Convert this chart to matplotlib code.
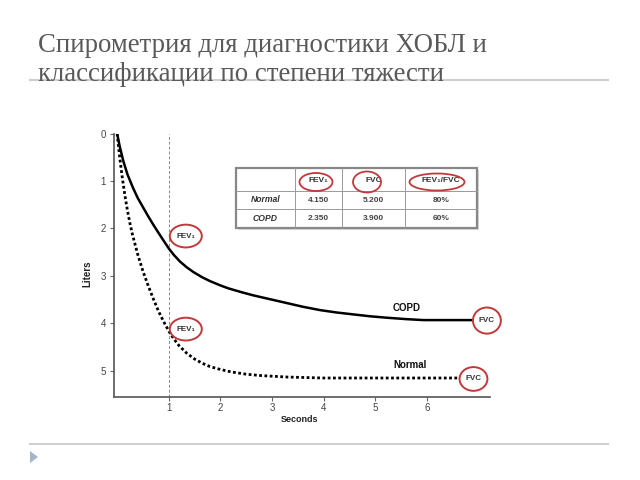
import matplotlib
matplotlib.use("Agg")
import matplotlib.pyplot as plt
from matplotlib.patches import Ellipse, Rectangle, Polygon

# ---------------- data ----------------
title_lines = ["Спирометрия для диагностики ХОБЛ и",
               "классификации по степени тяжести"]

copd_t = [0, 0.05, 0.12, 0.2, 0.31, 0.4, 0.51, 0.6, 0.7, 0.8, 0.89, 1.0, 1.1, 1.22, 1.35,
          1.48, 1.65, 1.8, 2.0, 2.15, 2.4, 2.64, 3.0, 3.28, 3.6, 3.93, 4.25, 4.57, 4.9,
          5.22, 5.6, 5.93, 6.9]
copd_v = [0, 0.27, 0.58, 0.86, 1.15, 1.36, 1.57, 1.74, 1.92, 2.09, 2.24, 2.42, 2.56,
          2.70, 2.82, 2.92, 3.03, 3.11, 3.20, 3.26, 3.34, 3.41, 3.50, 3.57, 3.65, 3.72,
          3.77, 3.81, 3.85, 3.88, 3.91, 3.93, 3.93]

normal_t = [0, 0.05, 0.1, 0.15, 0.2, 0.25, 0.3, 0.4, 0.5, 0.6, 0.7, 0.8, 0.9, 1.0, 1.1,
            1.2, 1.35, 1.5, 1.65, 1.8, 2.0, 2.2, 2.5, 2.8, 3.3, 4.0, 6.64]
normal_v = [0, 0.50, 0.93, 1.30, 1.62, 1.90, 2.14, 2.55, 2.90, 3.20, 3.48, 3.74, 3.96,
            4.16, 4.33, 4.47, 4.63, 4.75, 4.84, 4.91, 4.97, 5.02, 5.07, 5.10, 5.13,
            5.15, 5.15]

x_ticks = [1, 2, 3, 4, 5, 6]
y_ticks = [0, 1, 2, 3, 4, 5]

table_cols = ["FEV\u2081", "FVC", "FEV\u2081/FVC"]
table_rows = ["Normal", "COPD"]
table_fev1 = ["4.150", "2.350"]
table_fvc = ["5.200", "3.900"]
table_ratio = ["80%", "60%"]

SANS = ["Liberation Sans", "DejaVu Sans"]
SERIF = ["Liberation Serif", "DejaVu Serif"]
RED = "#c0393b"

fig = plt.figure(figsize=(6.4, 4.8), dpi=100)
fig.patch.set_facecolor("white")

# ---------------- chart ----------------
ax = fig.add_axes([113.5 / 640, 1 - 397 / 480, 376.5 / 640, 263.5 / 480])
ax.patch.set_alpha(0)
ax.plot(copd_t, copd_v, color="black", lw=1.8, solid_capstyle="butt",
        solid_joinstyle="round", zorder=3)
ax.plot(normal_t, normal_v, color="black", lw=2.0, linestyle=(0, (1, 0.9)), zorder=3)
ax.axvline(1, color="#8a8a8a", lw=0.7, ls=(0, (3, 2)), zorder=2)
ax.set_xlim(-0.07, 7.22)
ax.set_ylim(5.55, 0)
for s in ("top", "right"):
    ax.spines[s].set_visible(False)
for s in ("left", "bottom"):
    ax.spines[s].set_color("#555555")
    ax.spines[s].set_linewidth(1.2)
ax.set_xticks(x_ticks)
ax.set_yticks(y_ticks)
ax.set_xticklabels([str(v) for v in x_ticks])
ax.set_yticklabels([str(v) for v in y_ticks])
ax.tick_params(axis="both", length=3, width=0.8, color="#666666",
               labelsize=7, labelcolor="#444444")
ax.tick_params(axis="x", pad=1.5)
ax.tick_params(axis="y", pad=2.5)
for lab in ax.get_xticklabels() + ax.get_yticklabels():
    lab.set_family(SANS)

ax.set_xlabel("Seconds", fontsize=6.5, fontweight="bold", family=SANS, color="#222222")
ax.set_ylabel("Liters", fontsize=7, fontweight="bold", family=SANS, color="#222222")
ax.xaxis.set_label_coords(0.493, -0.087)
ax.xaxis.label.set_va("center")
ax.yaxis.set_label_coords(-0.070, 0.467)
ax.yaxis.label.set_va("center")

def circ(x, y, w, h, txt):
    ax.add_patch(Ellipse((x, y), w, h, fill=False, ec=RED, lw=1.4, clip_on=False, zorder=4))
    ax.text(x, y, txt, ha="center", va="center", fontsize=5.8, fontweight="bold",
            family=SANS, color="#333333", zorder=5, clip_on=False)

circ(1.33, 2.16, 0.62, 0.48, "FEV\u2081")
circ(1.33, 4.12, 0.62, 0.48, "FEV\u2081")
circ(7.16, 3.94, 0.54, 0.55, "FVC")
circ(6.90, 5.17, 0.54, 0.50, "FVC")

ax.text(5.61, 3.67, "COPD", ha="center", va="center", fontsize=7, fontweight="bold",
        family=SANS, color="#111111")
ax.text(5.67, 4.87, "Normal", ha="center", va="center", fontsize=7, fontweight="bold",
        family=SANS, color="#111111")

# ---------------- slide overlay (pixel space) ----------------
ov = fig.add_axes([0, 0, 1, 1], zorder=5)
ov.set_xlim(0, 640)
ov.set_ylim(480, 0)
ov.axis("off")
ov.patch.set_alpha(0)

ov.plot([30, 608], [80, 80], color="#cfcfcf", lw=1.5, zorder=1)
ov.plot([30, 608], [444, 444], color="#cfcfcf", lw=1.5, zorder=1)
ov.add_patch(Polygon([[30, 451], [30, 463], [38, 457]], closed=True,
                     fc="#a3b6c9", ec="none"))

ov.text(38, 52, title_lines[0], fontsize=19.3, family=SERIF, color="#595959",
        ha="left", va="baseline", zorder=3)
ov.text(38, 81, title_lines[1], fontsize=19.3, family=SERIF, color="#595959",
        ha="left", va="baseline", zorder=3)

# table
col_edges = [236, 295, 342, 405, 477]
row_edges = [168, 191, 209, 228]
ov.add_patch(Rectangle((col_edges[0] + 2, row_edges[0] + 2), col_edges[-1] - col_edges[0],
                       row_edges[-1] - row_edges[0], fc="#d9d9d9", ec="none", zorder=2))
ov.add_patch(Rectangle((col_edges[0], row_edges[0]), col_edges[-1] - col_edges[0],
                       row_edges[-1] - row_edges[0], fc="white", ec="#888888", lw=1.6, zorder=3))
for yv in row_edges[1:-1]:
    ov.plot([col_edges[0], col_edges[-1]], [yv, yv], color="#999999", lw=0.7, zorder=4)
for xv in col_edges[1:-1]:
    ov.plot([xv, xv], [row_edges[0], row_edges[-1]], color="#999999", lw=0.7, zorder=4)

col_c = [(col_edges[i] + col_edges[i + 1]) / 2 for i in range(4)]
row_c = [(row_edges[i] + row_edges[i + 1]) / 2 for i in range(3)]
for j, name in enumerate(table_cols):
    ov.text(col_c[j + 1], row_c[0] + 1.5, name, ha="center", va="center", fontsize=6,
            fontweight="bold", family=SANS, color="#333333", zorder=5)
for i, rname in enumerate(table_rows):
    ov.text(col_c[0], row_c[i + 1], rname, ha="center", va="center", fontsize=6.2,
            fontweight="bold", style="italic", family=SANS, color="#333333", zorder=5)
    for j, val in enumerate([table_fev1[i], table_fvc[i], table_ratio[i]]):
        ov.text(col_c[j + 1], row_c[i + 1], val, ha="center", va="center", fontsize=6,
                fontweight="bold", family=SANS, color="#444444", zorder=5)

for (cx, w, h) in [(316, 33, 18), (367, 28, 21), (437, 55, 17)]:
    ov.add_patch(Ellipse((cx, 182), w, h, fill=False, ec=RED, lw=1.3, zorder=6))

fig.savefig("out.png", dpi=100, facecolor="white")
